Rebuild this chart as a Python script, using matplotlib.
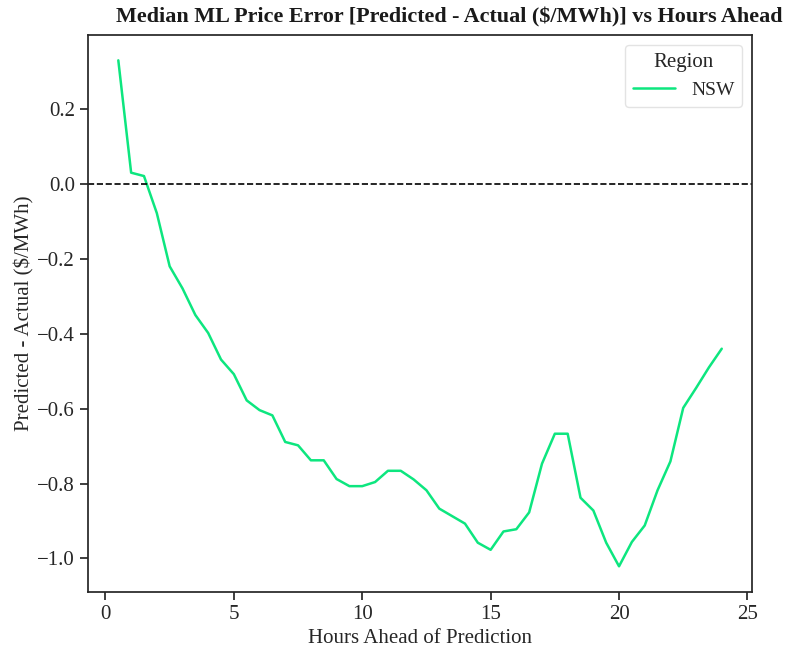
import matplotlib
matplotlib.use("Agg")
import matplotlib.pyplot as plt
import seaborn as sns

hours_ahead = [0.5, 1.0, 1.5, 2.0, 2.5, 3.0, 3.5, 4.0, 4.5, 5.0, 5.5, 6.0,
               6.5, 7.0, 7.5, 8.0, 8.5, 9.0, 9.5, 10.0, 10.5, 11.0, 11.5, 12.0,
               12.5, 13.0, 13.5, 14.0, 14.5, 15.0, 15.5, 16.0, 16.5, 17.0, 17.5, 18.0,
               18.5, 19.0, 19.5, 20.0, 20.5, 21.0, 21.5, 22.0, 22.5, 23.0, 23.5, 24.0]
nsw_error = [0.33, 0.03, 0.021, -0.078, -0.22, -0.279, -0.35, -0.398, -0.469, -0.508, -0.578, -0.604,
             -0.618, -0.689, -0.698, -0.738, -0.738, -0.788, -0.807, -0.807, -0.796, -0.766, -0.766, -0.789,
             -0.818, -0.867, -0.887, -0.907, -0.958, -0.977, -0.928, -0.922, -0.877, -0.747, -0.667, -0.667,
             -0.838, -0.872, -0.958, -1.021, -0.956, -0.912, -0.818, -0.741, -0.598, -0.545, -0.49, -0.44]
region_name = "NSW"

sns.set_style("ticks")
plt.rcParams['font.family'] = ['Liberation Serif', 'DejaVu Serif']
plt.rcParams['mathtext.default'] = 'regular'

fig = plt.figure(figsize=(7.94, 6.61), dpi=100)
ax = fig.add_axes([0.111, 0.105, 0.836, 0.842])

ax.plot(hours_ahead, nsw_error, color="#0de67f", lw=1.8, label=region_name)
ax.axhline(0, color="black", ls="--", lw=1.2)

for s in ax.spines.values():
    s.set_color("#262626")
    s.set_linewidth(1.25)
ax.tick_params(axis='both', labelsize=15, length=6, width=1.25, color="#262626", labelcolor="#262626")

ax.set_xticks([0, 5, 10, 15, 20, 25])
ax.set_yticks([-1.0, -0.8, -0.6, -0.4, -0.2, 0.0, 0.2])
ax.set_yticklabels(["\u22121.0", "\u22120.8", "\u22120.6", "\u22120.4", "\u22120.2", "0.0", "0.2"])

ax.set_xlabel("Hours Ahead of Prediction", fontsize=15, color="#262626", labelpad=4)
ax.set_ylabel("Predicted - Actual ($/MWh)", fontsize=15, color="#262626", labelpad=2)

leg = ax.legend(title="Region", fontsize=14, title_fontsize=15, loc="upper right",
                frameon=True, handlelength=2.2)
leg.get_frame().set_edgecolor("#dddddd")

fig.text(449 / 794, 1 - 17 / 661, "Median ML Price Error [Predicted - Actual ($/MWh)] vs Hours Ahead",
         ha="center", va="center", fontsize=15.9, fontweight="bold", color="#1a1a1a")

fig.savefig("out.png", dpi=100)
